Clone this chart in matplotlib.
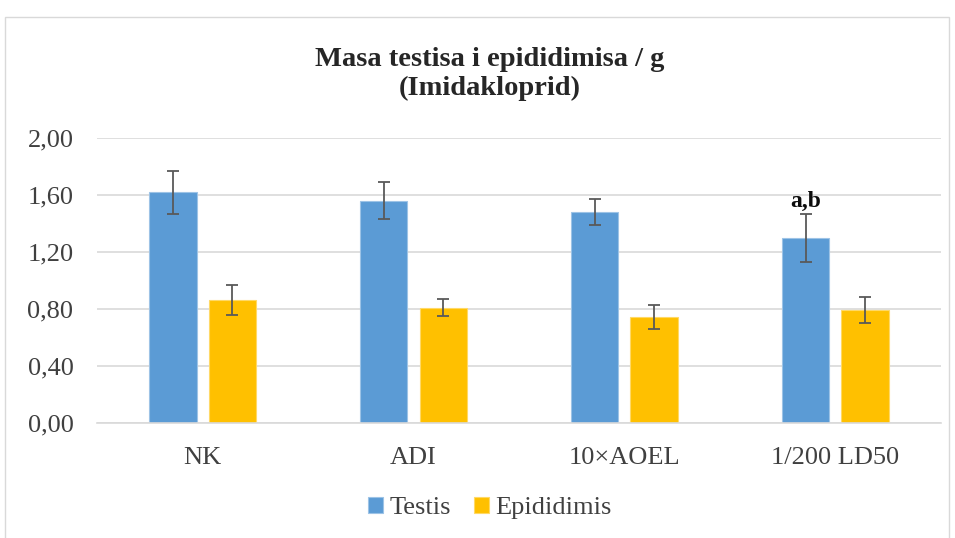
import numpy as np
import matplotlib.pyplot as plt
from matplotlib.patches import Rectangle

kategorije = ["NK", "ADI", "10×AOEL", "1/200 LD50"]
testis = [1.62, 1.56, 1.48, 1.30]
testis_sd = [0.15, 0.13, 0.09, 0.17]
epididimis = [0.865, 0.81, 0.745, 0.795]
epididimis_sd = [0.105, 0.06, 0.085, 0.09]
oznake = ["", "", "", "a,b"]
yticks = [0.0, 0.4, 0.8, 1.2, 1.6, 2.0]

plt.rcParams['font.family'] = ['Liberation Serif', 'DejaVu Serif']

fig = plt.figure(figsize=(9.55, 5.38), dpi=100)
ax = fig.add_axes([0.1016, 0.2138, 0.8837, 0.5297])

# okvir grafikona
fig.patches.append(Rectangle((5 / 955, -0.01), 944 / 955, 1 - 17 / 538 + 0.01,
                             transform=fig.transFigure, fill=False,
                             edgecolor='#d9d9d9', linewidth=1))

x = np.arange(len(kategorije))
w = 0.227
pomak = 0.142
err_kw = dict(ecolor='#595959', elinewidth=1.3, capsize=4.5, capthick=1.3)
ax.bar(x - pomak, testis, w, yerr=testis_sd, color='#5B9BD5',
       edgecolor='#9dc3e6', linewidth=0.8, label='Testis', error_kw=err_kw, zorder=2)
ax.bar(x + pomak, epididimis, w, yerr=epididimis_sd, color='#FFC000',
       edgecolor='#ffd966', linewidth=0.8, label='Epididimis', error_kw=err_kw, zorder=2)

for i, t in enumerate(oznake):
    if t:
        ax.text(x[i] - pomak, testis[i] + testis_sd[i] + 0.01, t, ha='center',
                va='bottom', fontsize=17, fontweight='bold', color='#0d0d0d')

ax.set_xlim(-0.5, 3.5)
ax.set_ylim(0, 2.0)
ax.set_yticks(yticks)
ax.set_yticklabels([f"{v:.2f}".replace('.', ',') for v in yticks], fontsize=19, color='#404040')
ax.set_xticks(x)
ax.set_xticklabels(kategorije, fontsize=19, color='#404040')
ax.tick_params(axis='y', length=0, pad=17)
ax.tick_params(axis='x', length=0, pad=17)
ax.grid(axis='y', color='#d9d9d9', linewidth=1.2, zorder=0)
for s in ['top', 'right', 'left']:
    ax.spines[s].set_visible(False)
ax.spines['bottom'].set_color('#d9d9d9')
ax.spines['bottom'].set_linewidth(1.2)

fig.text(0.513, 1 - 74 / 538, "Masa testisa i epididimisa / g\n(Imidakloprid)",
         ha='center', va='center', fontsize=20.5, fontweight='bold', color='#262626',
         linespacing=1.2)

fig.legend(loc='center', bbox_to_anchor=(0.513, 1 - 508 / 538), ncol=2, frameon=False,
           fontsize=19, handlelength=0.55, handleheight=0.55, handletextpad=0.25,
           columnspacing=0.9, labelcolor='#404040')

fig.savefig('out.png', dpi=100)
